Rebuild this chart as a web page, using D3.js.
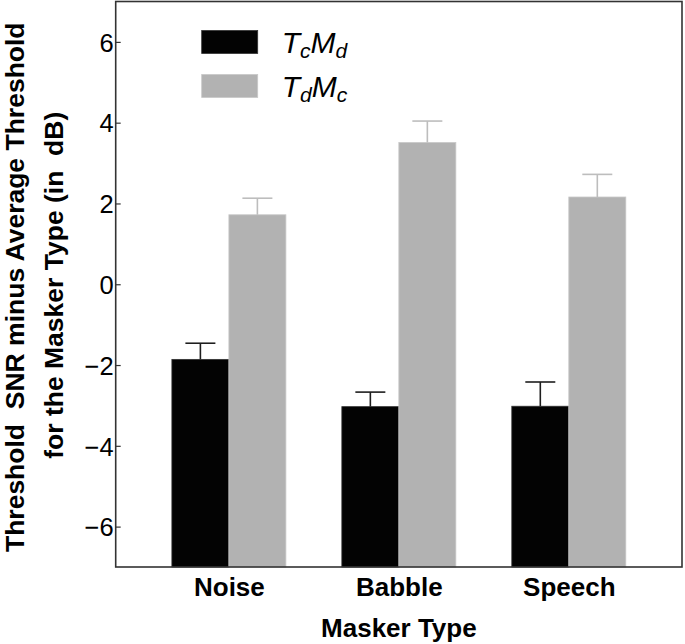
<!DOCTYPE html>
<html>
<head>
<meta charset="utf-8">
<title>Masker Type</title>
<script src="https://cdn.jsdelivr.net/npm/d3@7"></script>
<style>
  body { margin: 0; padding: 0; background: #fff; }
  svg text { font-family: "Liberation Sans", Arial, sans-serif; }
</style>
</head>
<body>
<div id="chart"></div>
<script>
// data
var categories = ["Noise", "Babble", "Speech"];
var seriesNames = ["TcMd", "TdMc"];
var tcmd    = [-1.86, -3.03, -3.02];
var tcmdErr = [0.40, 0.36, 0.60];
var tdmc    = [1.72, 3.51, 2.16];
var tdmcErr = [0.41, 0.53, 0.56];
var yTicks  = [-6, -4, -2, 0, 2, 4, 6];

var W = 685, H = 644;
var margin = { top: 1.5, right: 3, bottom: 77, left: 115.7 };
var width = W - margin.left - margin.right,
    height = H - margin.top - margin.bottom;

var svg = d3.select("#chart").append("svg")
  .attr("width", W).attr("height", H);
var g = svg.append("g")
  .attr("transform", "translate(" + margin.left + "," + margin.top + ")");

var x = d3.scalePoint().domain(categories).range([0, width]).padding(0.666);
var sub = d3.scaleBand().domain(seriesNames).range([-57, 57]);
var y = d3.scaleLinear().domain([-7, 7]).range([height, 0]);

var colors = { TcMd: "#030303", TdMc: "#b2b2b2" };
var errColors = { TcMd: "#1e1e1e", TdMc: "#bdbdbd" };

var rows = [];
categories.forEach(function (c, i) {
  rows.push({ cat: c, s: "TcMd", v: tcmd[i], e: tcmdErr[i] });
  rows.push({ cat: c, s: "TdMc", v: tdmc[i], e: tdmcErr[i] });
});

// bars
g.selectAll("rect.bar").data(rows).enter().append("rect")
  .attr("class", "bar")
  .attr("x", function (d) { return x(d.cat) + sub(d.s); })
  .attr("width", sub.bandwidth())
  .attr("y", function (d) { return y(d.v); })
  .attr("height", function (d) { return y(-7) - y(d.v); })
  .attr("fill", function (d) { return colors[d.s]; })
  .attr("stroke", function (d) { return d.s == "TdMc" ? "#c8c8c8" : "#333"; })
  .attr("stroke-width", 0.8);

// error bars (upper only)
var cap = 15;
rows.forEach(function (d) {
  var cx = x(d.cat) + sub(d.s) + sub.bandwidth() / 2;
  g.append("line")
    .attr("x1", cx).attr("x2", cx)
    .attr("y1", y(d.v)).attr("y2", y(d.v + d.e))
    .attr("stroke", errColors[d.s]).attr("stroke-width", 1.6);
  g.append("line")
    .attr("x1", cx - cap).attr("x2", cx + cap)
    .attr("y1", y(d.v + d.e)).attr("y2", y(d.v + d.e))
    .attr("stroke", errColors[d.s]).attr("stroke-width", 1.6);
});

// axes
var yAxis = g.append("g")
  .call(d3.axisLeft(y).tickValues(yTicks).tickSizeInner(-5).tickSizeOuter(0).tickPadding(2));
yAxis.select(".domain").remove();
yAxis.selectAll("line").attr("stroke", "#333").attr("stroke-width", 1.2);
yAxis.selectAll("text").attr("font-size", "25.5px").attr("fill", "#000")
  .attr("dy", "0.36em");

var xAxis = g.append("g")
  .attr("transform", "translate(0," + height + ")")
  .call(d3.axisBottom(x).tickSize(0).tickPadding(11));
xAxis.select(".domain").remove();
xAxis.selectAll("text").attr("font-size", "26px").attr("font-weight", "bold")
  .attr("fill", "#000").attr("dy", "0.71em");

// frame
g.append("rect")
  .attr("width", width).attr("height", height)
  .attr("fill", "none").attr("stroke", "#333").attr("stroke-width", 1.6);

// legend
var legend = g.append("g");
var legItems = [
  { s: "TcMd", a: "T", b: "c", c: "M", d: "d" },
  { s: "TdMc", a: "T", b: "d", c: "M", d: "c" }
];
legItems.forEach(function (it, i) {
  var ly = 29 + i * 44;
  legend.append("rect")
    .attr("x", 86).attr("y", ly)
    .attr("width", 56).attr("height", 23)
    .attr("fill", colors[it.s])
    .attr("stroke", it.s == "TdMc" ? "#c8c8c8" : "#333").attr("stroke-width", 0.8);
  var t = legend.append("text")
    .attr("x", 166).attr("y", ly + 22)
    .attr("font-size", "30px").attr("font-style", "italic").attr("fill", "#000");
  t.append("tspan").text(it.a);
  t.append("tspan").attr("font-size", "21px").attr("dy", 5).text(it.b);
  t.append("tspan").attr("dy", -5).text(it.c);
  t.append("tspan").attr("font-size", "21px").attr("dy", 5).text(it.d);
});

// axis titles
svg.append("text")
  .attr("x", margin.left + width / 2).attr("y", 637)
  .attr("text-anchor", "middle")
  .attr("font-size", "26px").attr("font-weight", "bold")
  .text("Masker Type");

var cy = margin.top + height / 2;
svg.append("text")
  .attr("transform", "translate(24," + (cy + 3) + ") rotate(-90)")
  .attr("text-anchor", "middle")
  .attr("font-size", "26.5px").attr("font-weight", "bold")
  .attr("xml:space", "preserve")
  .text("Threshold  SNR minus Average Threshold");
svg.append("text")
  .attr("transform", "translate(63," + (cy + 1) + ") rotate(-90)")
  .attr("text-anchor", "middle")
  .attr("font-size", "26.5px").attr("font-weight", "bold")
  .attr("xml:space", "preserve")
  .text("for the Masker Type (in  dB)");
</script>
</body>
</html>
